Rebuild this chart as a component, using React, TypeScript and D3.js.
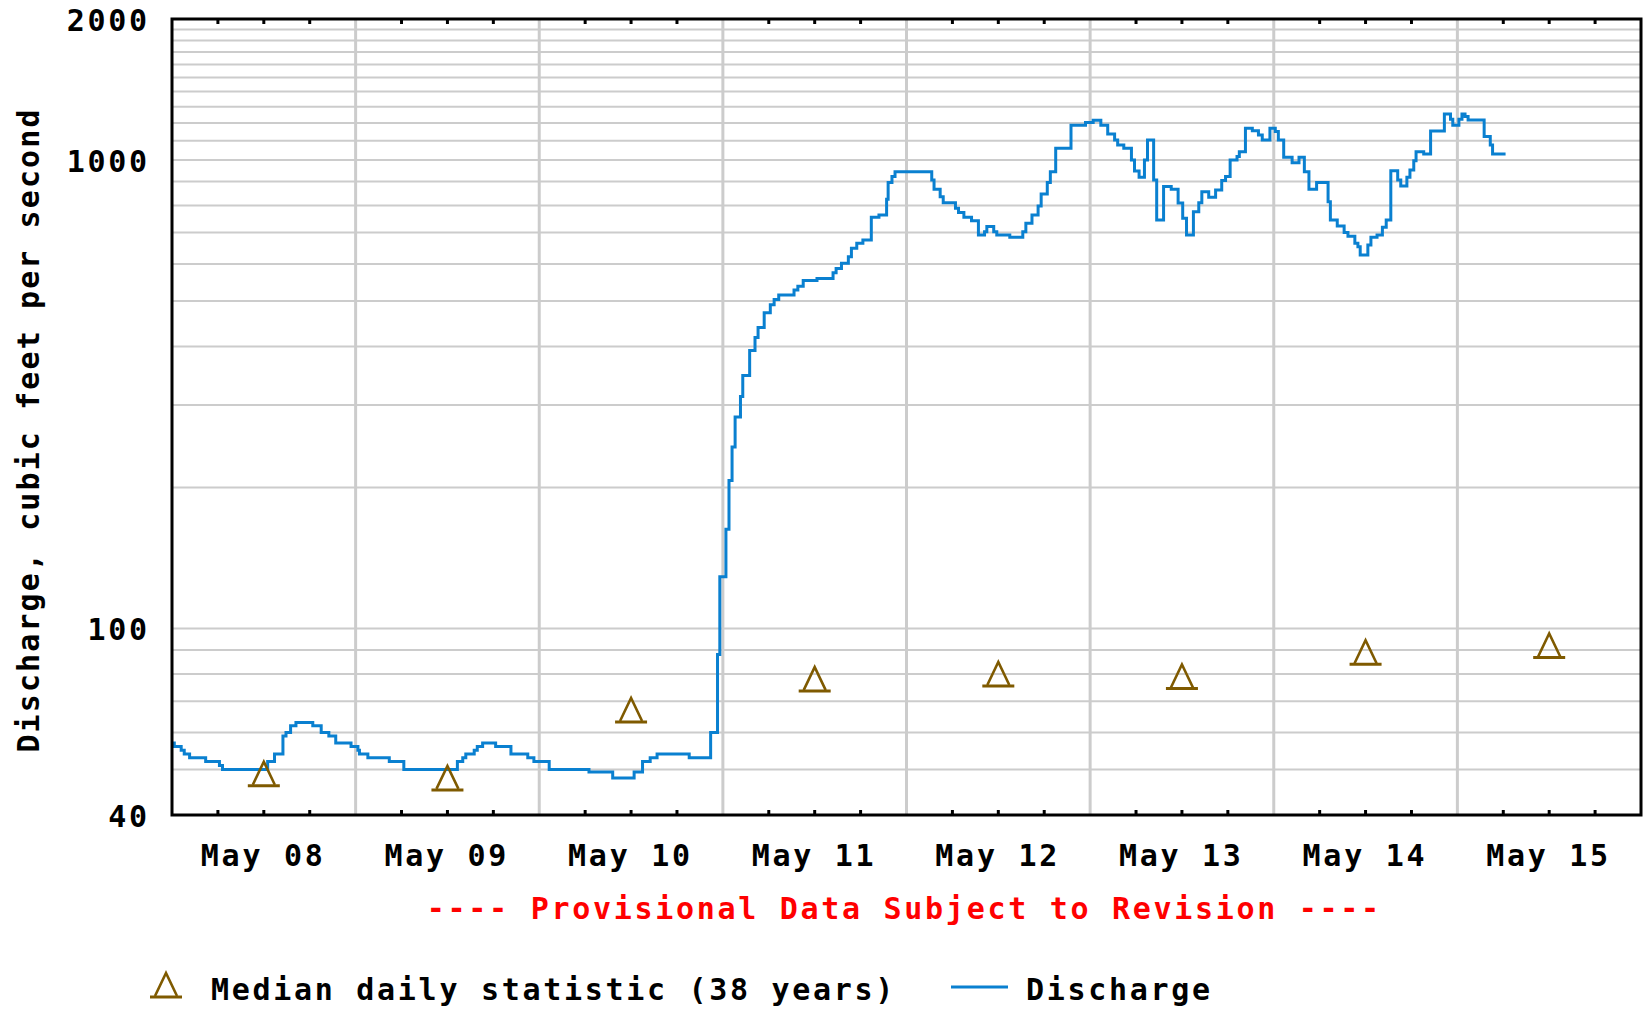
import React from 'react';
import * as d3 from 'd3';

// hours after May 08 00:00 -> discharge in cfs (each value holds until the next)
const discharge: [number, number][] = [
  [0, 57], [0.3, 56], [1.2, 55], [1.6, 54], [2.3, 53], [4.4, 52], [6.2, 51], [6.6, 50],
  [12.5, 52], [13.4, 54], [14.5, 59], [14.9, 60], [15.5, 62], [16.2, 63], [18.4, 62],
  [19.5, 60], [20.5, 59], [21.4, 57], [23.4, 56], [24.3, 55], [24.5, 54], [25.6, 53],
  [28.4, 52], [30.3, 50], [37.3, 52], [38.0, 53], [38.4, 54], [39.5, 55], [39.9, 56],
  [40.6, 57], [42.3, 56], [44.3, 54], [46.5, 53], [47.3, 52], [49.3, 50], [54.5, 49.4],
  [57.6, 48], [60.4, 49.4], [61.5, 52], [62.5, 53], [63.4, 54], [67.6, 53], [70.4, 60],
  [71.3, 88], [71.6, 129], [72.4, 163], [72.8, 207], [73.2, 244], [73.6, 283], [74.3, 313],
  [74.6, 347], [75.5, 392], [76.2, 418], [76.6, 439], [77.4, 472], [78.2, 491], [78.7, 504],
  [79.3, 515], [81.3, 528], [81.8, 538], [82.5, 553], [84.3, 559], [86.4, 575], [86.8, 587],
  [87.5, 602], [88.4, 622], [88.8, 648], [89.5, 664], [90.3, 675], [91.4, 755], [92.4, 763],
  [93.4, 825], [93.6, 895], [94.1, 922], [94.5, 944], [99.3, 907], [99.6, 866], [100.4, 835],
  [100.8, 811], [102.4, 789], [102.8, 773], [103.5, 755], [104.5, 742], [105.4, 692],
  [106.2, 703], [106.5, 721], [107.4, 703], [107.8, 692], [109.5, 684], [111.2, 703],
  [111.6, 733], [112.4, 763], [113.2, 798], [113.6, 846], [114.4, 895], [114.8, 944],
  [115.5, 1060], [117.5, 1186], [119.4, 1202], [120.4, 1216], [121.4, 1186], [122.3, 1137],
  [123.2, 1104], [123.6, 1077], [124.4, 1060], [125.4, 1000], [125.8, 948], [126.4, 919],
  [127.1, 1000], [127.5, 1104], [128.3, 907], [128.7, 745], [129.6, 878], [130.6, 866],
  [131.5, 810], [132.1, 751], [132.6, 692], [133.5, 776], [134.2, 811], [134.6, 856],
  [135.5, 833], [136.4, 863], [137.2, 904], [137.7, 922], [138.3, 1000], [139.2, 1017],
  [139.5, 1042], [140.3, 1169], [141.2, 1155], [142.0, 1131], [142.5, 1104], [143.5, 1169],
  [144.2, 1150], [144.6, 1104], [145.3, 1014], [146.4, 987], [147.3, 1014], [148.0, 944],
  [148.6, 866], [149.6, 895], [151.1, 815], [151.4, 745], [152.3, 723], [153.2, 700],
  [153.7, 688], [154.6, 664], [155.0, 653], [155.3, 627], [156.3, 659], [156.7, 684],
  [157.5, 692], [158.2, 719], [158.7, 745], [159.3, 949], [160.2, 907], [160.6, 880],
  [161.4, 919], [161.8, 952], [162.3, 997], [162.6, 1042], [163.6, 1030], [164.5, 1153],
  [166.3, 1254], [167.1, 1222], [167.4, 1186], [168.2, 1222], [168.6, 1254], [169.0, 1238],
  [169.4, 1218], [171.5, 1122], [172.3, 1077], [172.6, 1030], [174.3, 1030],
];

// median daily statistic, one per day May 08 .. May 15
const medianCfs = [49, 48, 67, 78, 80, 79, 89, 92];

const yLabelValues = [40, 100, 1000, 2000];
const yGridValues = [
  50, 60, 70, 80, 90, 100, 200, 300, 400, 500, 600, 700, 800, 900,
  1000, 1100, 1200, 1300, 1400, 1500, 1600, 1700, 1800, 1900,
];

const yTitle = 'Discharge, cubic feet per second';
const noteText = '---- Provisional Data Subject to Revision ----';
const medianLabel = 'Median daily statistic (38 years)';
const dischargeLabel = 'Discharge';

const W = 1643;
const H = 1009;
const left = 172;
const right = 1641;
const top = 19;
const bottom = 815;

const FONT = '"DejaVu Sans Mono", monospace';
const FS = 30;
const LS = 2.7;
const BLUE = '#0a80d0';
const BROWN = '#7f5a00';
const GRID = '#cccccc';

const start = new Date(2008, 4, 8);
const hourToDate = (h: number) => new Date(start.getTime() + h * 3600 * 1000);

const Triangle = ({ cx, cy }: { cx: number; cy: number }) => (
  <g stroke={BROWN} fill="none" strokeWidth={2.6}>
    <path d={`M${cx - 11},${cy + 11} L${cx},${cy - 12} L${cx + 11},${cy + 11}`} />
    <line x1={cx - 16} x2={cx + 16} y1={cy + 12} y2={cy + 12} strokeWidth={3} />
  </g>
);

export default function App() {
  const end = d3.timeDay.offset(start, 8);
  const x = d3.scaleTime().domain([start, end]).range([left, right]);
  const y = d3.scaleLog().domain([40, 2000]).range([bottom, top]);

  const days = d3.timeDay.range(start, end);
  const midnights = days.slice(1);
  const sixHours = d3.timeHour
    .every(6)!
    .range(start, end)
    .filter((d) => d.getHours() !== 0);
  const fmt = d3.timeFormat('%b %d');

  const line = d3
    .line<[number, number]>()
    .x((d) => x(hourToDate(d[0])))
    .y((d) => y(d[1]))
    .curve(d3.curveStepAfter);

  const textStyle = { fontFamily: FONT, fontWeight: 700, fontSize: FS, letterSpacing: LS };

  return (
    <svg
      width={W}
      height={H}
      style={{ position: 'absolute', left: 0, top: 0, background: '#fff' }}
    >
      <rect x={0} y={0} width={W} height={H} fill="#fff" />

      {/* horizontal grid */}
      {yGridValues.map((v) => (
        <line key={v} x1={left} x2={right} y1={y(v)} y2={y(v)} stroke={GRID} strokeWidth={2} />
      ))}
      {/* vertical grid at midnight */}
      {midnights.map((d) => (
        <line key={+d} x1={x(d)} x2={x(d)} y1={top} y2={bottom} stroke={GRID} strokeWidth={3} />
      ))}

      {/* 6-hour ticks, top and bottom */}
      {sixHours.map((d) => (
        <g key={+d} stroke="#000" strokeWidth={3}>
          <line x1={x(d)} x2={x(d)} y1={top} y2={top + 5} />
          <line x1={x(d)} x2={x(d)} y1={bottom} y2={bottom - 5} />
        </g>
      ))}

      {/* discharge */}
      <path d={line(discharge) || ''} fill="none" stroke={BLUE} strokeWidth={3} />

      {/* median markers */}
      {medianCfs.map((v, i) => (
        <Triangle key={i} cx={x(d3.timeHour.offset(days[i], 12))} cy={y(v)} />
      ))}

      <rect
        x={left}
        y={top}
        width={right - left}
        height={bottom - top}
        fill="none"
        stroke="#000"
        strokeWidth={3}
      />

      {/* y labels */}
      {yLabelValues.map((v) => (
        <text
          key={v}
          x={147 + LS}
          y={y(v) + 1}
          dy="0.35em"
          textAnchor="end"
          style={textStyle}
        >
          {v}
        </text>
      ))}

      {/* x labels */}
      {days.map((d) => (
        <text
          key={+d}
          x={x(d3.timeHour.offset(d, 12)) - 2 + LS / 2}
          y={866}
          textAnchor="middle"
          style={textStyle}
        >
          {fmt(d)}
        </text>
      ))}

      <text
        transform="translate(39,430) rotate(-90)"
        textAnchor="middle"
        style={{ ...textStyle, letterSpacing: 2.1 }}
      >
        {yTitle}
      </text>

      <text x={903 + LS / 2} y={919} textAnchor="middle" fill="#ff0000" style={textStyle}>
        {noteText}
      </text>

      {/* legend */}
      <Triangle cx={166} cy={985} />
      <text x={211} y={1000} style={textStyle}>
        {medianLabel}
      </text>
      <line x1={951} x2={1008} y1={987} y2={987} stroke={BLUE} strokeWidth={3} />
      <text x={1026} y={1000} style={textStyle}>
        {dischargeLabel}
      </text>
    </svg>
  );
}
